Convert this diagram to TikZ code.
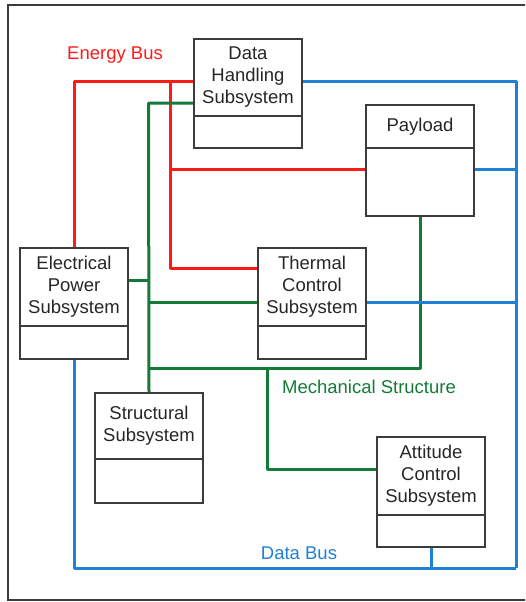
\documentclass[tikz,border=0pt]{standalone}
\usepackage{fontspec}
\setmainfont{Liberation Sans}
\definecolor{boxc}{HTML}{3C3C3C}
\definecolor{ered}{HTML}{FF1A1A}
\definecolor{mgreen}{HTML}{137A38}
\definecolor{dblue}{HTML}{1F80D8}
\begin{document}
\begin{tikzpicture}[x=1pt,y=-1pt,
  comp/.style={draw=boxc, line width=2pt, minimum width=108pt, inner sep=0pt,
    anchor=north west, align=center, text=black!85,
    font=\fontsize{18.5}{22}\selectfont},
  ebus/.style={draw=ered, line width=3pt, line join=round},
  mech/.style={draw=mgreen, line width=3pt, line join=round},
  dbus/.style={draw=dblue, line width=3pt, line join=round},
  lbl/.style={font=\fontsize{18.5}{22}\selectfont, inner sep=0pt}]
\clip (0,0) rectangle (525,602);
\useasboundingbox (0,0) rectangle (525,602);
% outer frame
\draw[boxc, line width=2pt] (535,5) -- (8,5) -- (8,600) -- (535,600);

% boxes: upper compartment (with text) and lower compartment
\node[comp, minimum height=77pt] (dh) at (193,38) {Data\\Handling\\Subsystem};
\node[comp, minimum height=32pt] (dhb) at (193,115) {};
\node[comp, minimum height=43pt] (pl) at (365,104) {Payload};
\node[comp, minimum height=68pt] (plb) at (365,147) {};
\node[comp, minimum height=78pt] (ep) at (19,247) {Electrical\\Power\\Subsystem};
\node[comp, minimum height=33pt] (epb) at (19,325) {};
\node[comp, minimum height=78pt] (tc) at (257,247) {Thermal\\Control\\Subsystem};
\node[comp, minimum height=33pt] (tcb) at (257,325) {};
\node[comp, minimum height=66pt] (st) at (94,392) {Structural\\Subsystem};
\node[comp, minimum height=44pt] (stb) at (94,458) {};
\node[comp, minimum height=78pt] (ac) at (376,436) {Attitude\\Control\\Subsystem};
\node[comp, minimum height=32pt] (acb) at (376,514) {};

% junction coordinates
\coordinate (e1) at (73,81);
\coordinate (e2) at (170,81);
\coordinate (e3) at (170,268);
\coordinate (e4) at (170,169);
\coordinate (g1) at (148.5,103);
\coordinate (g3) at (148.5,280);
\coordinate (g4) at (148.5,302);
\coordinate (g5) at (148.5,368);
\coordinate (g7) at (267,368);
\coordinate (g8) at (267,469);
\coordinate (b1) at (516,81);
\coordinate (b2) at (516,568);
\coordinate (b3) at (516,169);
\coordinate (b4) at (516,302);

% Energy bus
\draw[ebus] (ep.north) -- (ep.north |- e1) -- (e1 -| dh.west);
\draw[ebus] (e2) -- (e3) -- (e3 -| tc.west);
\draw[ebus] (e4) -- (e4 -| pl.west);
% Mechanical structure
\draw[mech] (g1 -| dh.west) -- (g1) -- (st.north);
\draw[mech] (g3 -| ep.east) -- (g3);
\draw[mech] (g4) -- (g4 -| tc.west);
\draw[mech] (g5) -- (g5 -| plb.south) -- (plb.south);
\draw[mech] (g7) -- (g8) -- (g8 -| ac.west);
% Data bus
\draw[dbus] (b1 -| dh.east) -- (b1) -- (b2);
\draw[dbus] (b3 -| plb.east) -- (b3);
\draw[dbus] (b4 -| tc.east) -- (b4);
\draw[dbus] (epb.south) -- (epb.south |- b2) -- (b2);
\draw[dbus] (acb.south) -- (acb.south |- b2);

% labels
\node[lbl, text=ered] (lE) at (115,55) {Energy Bus};
\node[lbl, text=mgreen] (lM) at (369,387) {Mechanical Structure};
\node[lbl, text=dblue] (lD) at (299,553) {Data Bus};
\end{tikzpicture}
\end{document}
